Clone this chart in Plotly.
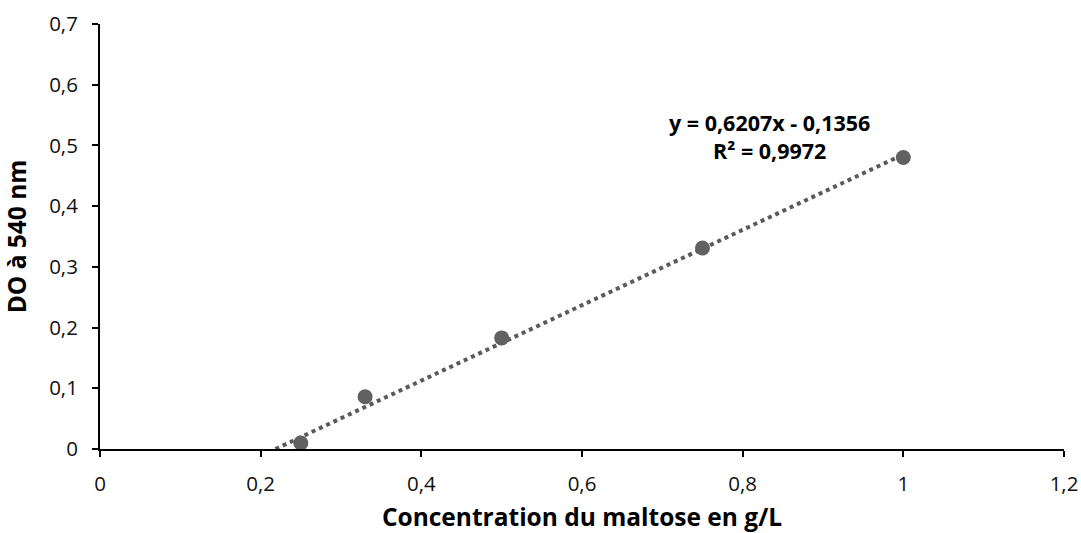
import plotly.graph_objects as go

# Calibration points: maltose concentration (g/L) vs optical density at 540 nm
concentration = [0.25, 0.33, 0.5, 0.75, 1.0]
absorbance = [0.01, 0.086, 0.183, 0.331, 0.48]

# Linear fit reported on the chart
slope = 0.6207
intercept = -0.1356
r_squared = 0.9972

x_start = -intercept / slope
x_end = max(concentration)
fit_x = [x_start, x_end]
fit_y = [slope * v + intercept for v in fit_x]

x_ticks = [0, 0.2, 0.4, 0.6, 0.8, 1.0, 1.2]
y_ticks = [0, 0.1, 0.2, 0.3, 0.4, 0.5, 0.6, 0.7]

FONT = "Open Sans"

fig = go.Figure()

fig.add_trace(go.Scatter(
    x=fit_x, y=fit_y, mode="lines",
    line=dict(color="#5a5a5a", width=4, dash="dot"),
    hoverinfo="skip", showlegend=False,
))

fig.add_trace(go.Scatter(
    x=concentration, y=absorbance, mode="markers",
    marker=dict(color="#616161", size=15, line=dict(width=0)),
    showlegend=False,
))

eq_text = (
    f"y = {slope:.4f}x - {abs(intercept):.4f}".replace(".", ",")
    + "<br>"
    + f"R² = {r_squared:.4f}".replace(".", ",")
)
fig.add_annotation(
    x=0.834, y=0.514, xref="x", yref="y",
    text=eq_text, showarrow=False, align="center",
    font=dict(family=FONT, size=21.5, color="#000000", weight="bold"),
)

fig.update_layout(
    width=1081, height=533,
    margin=dict(l=100, r=17, t=24, b=84),
    paper_bgcolor="white", plot_bgcolor="white",
    separators=", ",
    font=dict(family=FONT, color="#111111"),
)

fig.update_xaxes(
    range=[0, 1.2], tickvals=x_ticks, automargin=False,
    showgrid=False, zeroline=False,
    showline=True, linecolor="#000000", linewidth=2,
    ticks="outside", ticklen=6, tickwidth=2, tickcolor="#000000",
    tickfont=dict(family=FONT, size=20.5, color="#111111"),
    ticklabelstandoff=9,
    title=dict(text="Concentration du maltose en g/L", standoff=13,
               font=dict(family=FONT, size=24.5, color="#000000", weight="bold")),
)

fig.update_yaxes(
    range=[0, 0.7], tickvals=y_ticks, automargin=False,
    showgrid=False, zeroline=False,
    showline=True, linecolor="#000000", linewidth=2,
    ticks="outside", ticklen=6, tickwidth=2, tickcolor="#000000",
    tickfont=dict(family=FONT, size=20.5, color="#111111"),
    ticklabelstandoff=10,
    title=dict(text="DO à 540 nm", standoff=18,
               font=dict(family=FONT, size=24.5, color="#000000", weight="bold")),
)

fig.write_html("out.html")
